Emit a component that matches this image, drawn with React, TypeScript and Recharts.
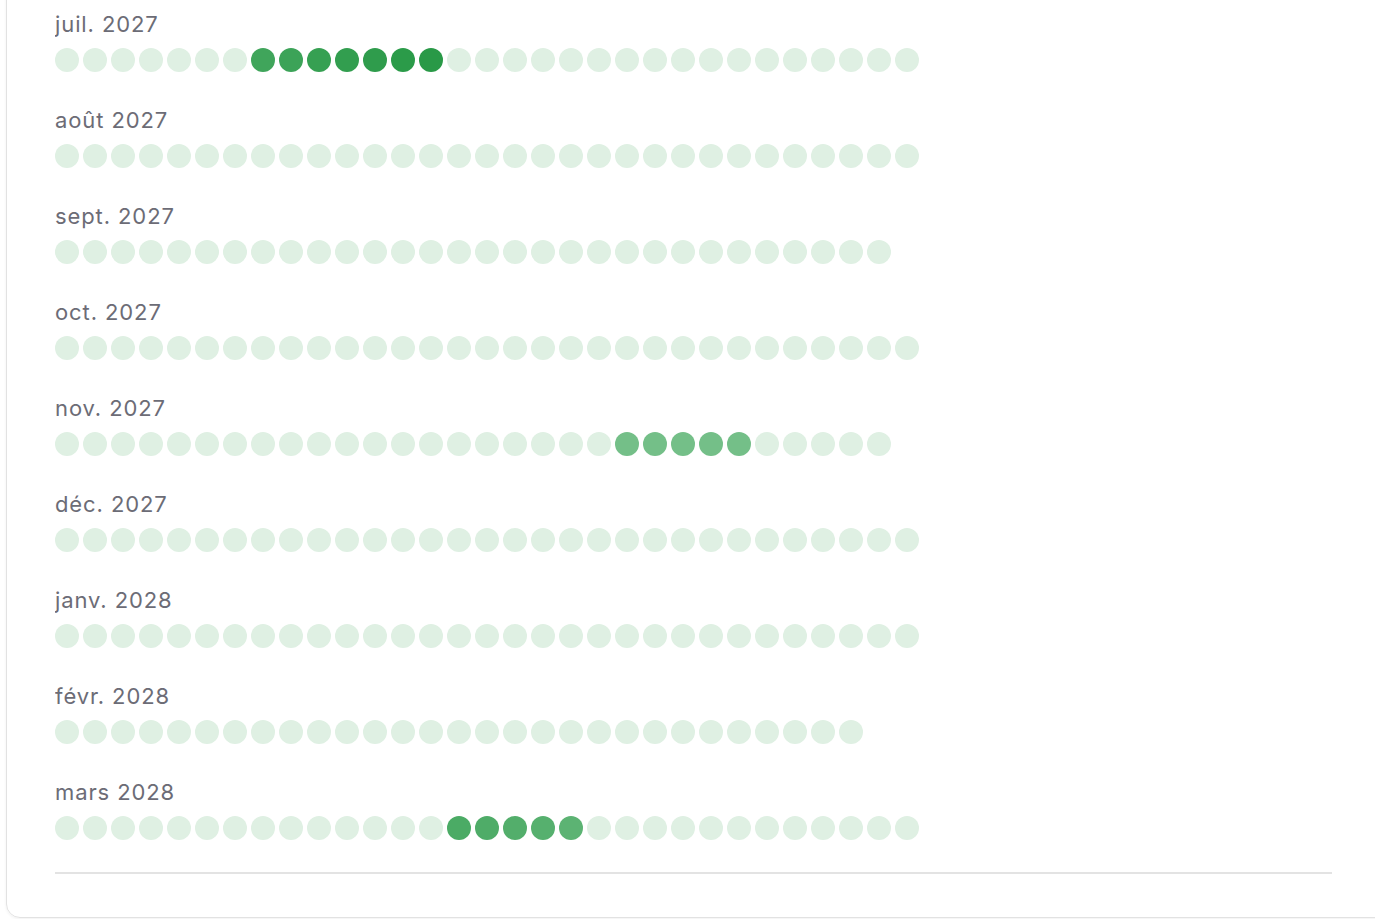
import { ScatterChart, Scatter, XAxis, YAxis } from 'recharts';

const months = ['juil. 2027', 'août 2027', 'sept. 2027', 'oct. 2027', 'nov. 2027', 'déc. 2027', 'janv. 2028', 'févr. 2028', 'mars 2028'];
const daysInMonth = [31, 31, 30, 31, 30, 31, 31, 29, 31];

// active days: month index, day of month, intensity 0-100
const activeMonth = [0, 0, 0, 0, 0, 0, 0, 4, 4, 4, 4, 4, 8, 8, 8, 8, 8];
const activeDay = [8, 9, 10, 11, 12, 13, 14, 21, 22, 23, 24, 25, 15, 16, 17, 18, 19];
const activeLevel = [71, 76, 83, 88, 92, 96, 99, 10, 10, 10, 10, 10, 58, 54, 49, 45, 38];

const EMPTY = '#dff0e3';
const LOW = [124, 195, 143];
const HIGH = [40, 153, 70];

const levelColor = (level: number) => {
  if (!level) return EMPTY;
  const t = level / 100;
  const c = LOW.map((v, i) => Math.round(v + (HIGH[i] - v) * t));
  return `rgb(${c[0]},${c[1]},${c[2]})`;
};

type Dot = { day: number; row: number; level: number; label: string };

const rows: Dot[][] = months.map((label, row) => {
  const dots: Dot[] = [];
  for (let d = 1; d <= daysInMonth[row]; d++) {
    let level = 0;
    activeDay.forEach((ad, k) => {
      if (activeMonth[k] === row && ad === d) level = activeLevel[k];
    });
    dots.push({ day: d, row, level, label });
  }
  return dots;
});

const DayDot = (props: any) => {
  const { cx, cy, payload } = props;
  return (
    <g>
      {payload.day === 1 && (
        <text x={cx - 12} y={cy - 28} fill='#6c6c76' fontSize={22} fontFamily='Inter, sans-serif' letterSpacing={0.9}>
          {payload.label}
        </text>
      )}
      <circle cx={cx} cy={cy} r={12} fill={levelColor(payload.level)} />
    </g>
  );
};

export default function App() {
  return (
    <div style={{ position: 'absolute', left: 0, top: 0, width: 1375, height: 919, overflow: 'hidden', background: '#fff' }}>
      <div
        style={{
          position: 'absolute',
          left: 6,
          top: -200,
          width: 1400,
          height: 1116,
          border: '1.5px solid #e2e2e2',
          borderRadius: 14,
          boxShadow: '0 1px 3px rgba(0,0,0,0.06)',
        }}
      />
      <div style={{ position: 'absolute', left: 55, top: 0 }}>
        <ScatterChart width={1277} height={873} margin={{ top: 60, right: 425, bottom: 45, left: 12 }}>
          <XAxis type='number' dataKey='day' domain={[1, 31]} hide />
          <YAxis type='number' dataKey='row' domain={[0, 8]} reversed hide width={0} />
          {rows.map((data, i) => (
            <Scatter key={months[i]} data={data} shape={<DayDot />} isAnimationActive={false} />
          ))}
        </ScatterChart>
      </div>
      <div style={{ position: 'absolute', left: 55, top: 872, width: 1277, height: 2, background: '#e3e3e3' }} />
    </div>
  );
}
